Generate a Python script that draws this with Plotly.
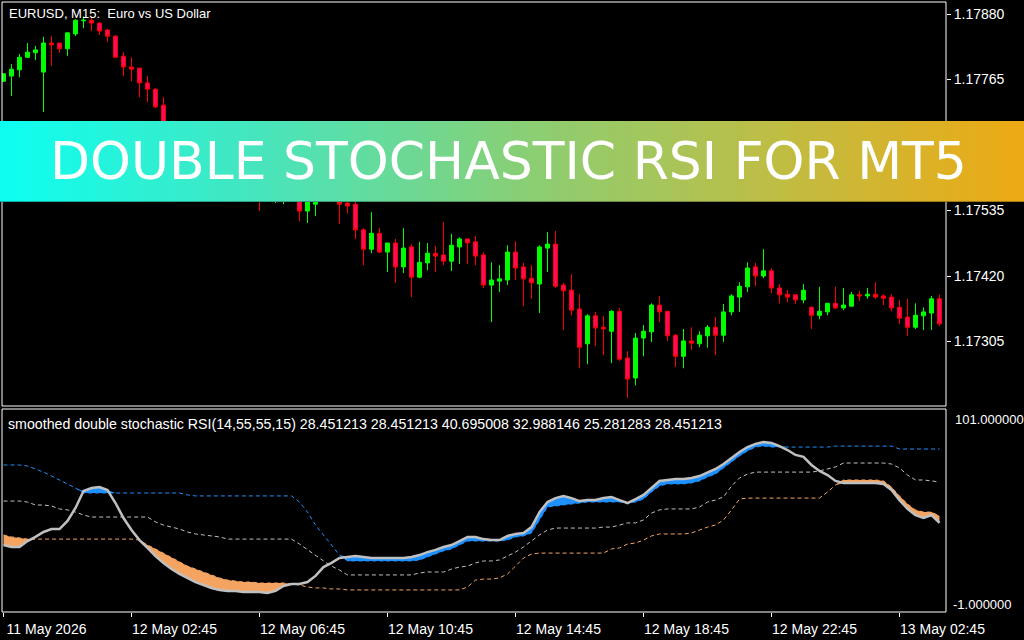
import numpy as np
import plotly.graph_objects as go

W, H = 1024, 640

# ---------------- data ----------------
bar_index = list(range(118))

open_ = [1.17762, 1.17771, 1.17782, 1.17804, 1.17812, 1.17778, 1.17829, 1.17829, 1.17819, 1.17845,
         1.17868, 1.17869, 1.17864, 1.17852, 1.17841, 1.17806, 1.17787, 1.17785, 1.17759, 1.17748,
         1.17720, 1.17680, 1.17659, 1.17671, 1.17641, 1.17627, 1.17638, 1.17613, 1.17592, 1.17606,
         1.17580, 1.17567, 1.17578, 1.17557, 1.17557, 1.17553, 1.17564, 1.17560, 1.17534, 1.17546,
         1.17559, 1.17553, 1.17562, 1.17548, 1.17546, 1.17501, 1.17467, 1.17495, 1.17462, 1.17478,
         1.17436, 1.17471, 1.17418, 1.17443, 1.17460, 1.17457, 1.17446, 1.17471, 1.17485, 1.17480,
         1.17457, 1.17404, 1.17411, 1.17413, 1.17462, 1.17436, 1.17416, 1.17406, 1.17469, 1.17476,
         1.17404, 1.17395, 1.17362, 1.17301, 1.17350, 1.17330, 1.17323, 1.17358, 1.17276, 1.17241,
         1.17311, 1.17322, 1.17369, 1.17358, 1.17316, 1.17279, 1.17306, 1.17301, 1.17315, 1.17330,
         1.17316, 1.17357, 1.17383, 1.17401, 1.17436, 1.17420, 1.17429, 1.17399, 1.17388, 1.17387,
         1.17378, 1.17365, 1.17351, 1.17357, 1.17372, 1.17364, 1.17367, 1.17387, 1.17385, 1.17388,
         1.17385, 1.17383, 1.17365, 1.17348, 1.17330, 1.17350, 1.17355, 1.17380]

high = [1.17776, 1.17792, 1.17810, 1.17829, 1.17824, 1.17840, 1.17841, 1.17829, 1.17847, 1.17871,
        1.17876, 1.17875, 1.17866, 1.17854, 1.17843, 1.17813, 1.17804, 1.17785, 1.17771, 1.17750,
        1.17734, 1.17687, 1.17676, 1.17675, 1.17650, 1.17645, 1.17641, 1.17624, 1.17610, 1.17611,
        1.17588, 1.17585, 1.17581, 1.17574, 1.17578, 1.17571, 1.17569, 1.17564, 1.17560, 1.17566,
        1.17571, 1.17574, 1.17567, 1.17550, 1.17557, 1.17504, 1.17532, 1.17504, 1.17478, 1.17485,
        1.17504, 1.17476, 1.17480, 1.17478, 1.17473, 1.17515, 1.17494, 1.17488, 1.17485, 1.17490,
        1.17462, 1.17444, 1.17439, 1.17474, 1.17481, 1.17443, 1.17439, 1.17474, 1.17497, 1.17499,
        1.17408, 1.17423, 1.17388, 1.17353, 1.17357, 1.17350, 1.17360, 1.17364, 1.17288, 1.17320,
        1.17334, 1.17372, 1.17385, 1.17358, 1.17318, 1.17327, 1.17330, 1.17323, 1.17334, 1.17348,
        1.17371, 1.17388, 1.17409, 1.17444, 1.17443, 1.17467, 1.17434, 1.17406, 1.17395, 1.17388,
        1.17406, 1.17367, 1.17401, 1.17372, 1.17401, 1.17399, 1.17392, 1.17394, 1.17399, 1.17409,
        1.17388, 1.17388, 1.17378, 1.17380, 1.17372, 1.17365, 1.17385, 1.17387]

low = [1.17761, 1.17736, 1.17769, 1.17803, 1.17799, 1.17708, 1.17789, 1.17812, 1.17806, 1.17841,
       1.17855, 1.17850, 1.17843, 1.17831, 1.17803, 1.17771, 1.17762, 1.17734, 1.17725, 1.17715,
       1.17673, 1.17652, 1.17648, 1.17632, 1.17618, 1.17620, 1.17606, 1.17585, 1.17581, 1.17571,
       1.17557, 1.17559, 1.17534, 1.17552, 1.17548, 1.17546, 1.17552, 1.17516, 1.17513, 1.17525,
       1.17550, 1.17552, 1.17511, 1.17530, 1.17485, 1.17439, 1.17460, 1.17460, 1.17427, 1.17408,
       1.17425, 1.17383, 1.17416, 1.17430, 1.17427, 1.17439, 1.17429, 1.17441, 1.17441, 1.17439,
       1.17399, 1.17339, 1.17392, 1.17404, 1.17413, 1.17367, 1.17380, 1.17355, 1.17427, 1.17399,
       1.17325, 1.17351, 1.17258, 1.17265, 1.17297, 1.17281, 1.17267, 1.17271, 1.17206, 1.17228,
       1.17279, 1.17304, 1.17339, 1.17306, 1.17260, 1.17258, 1.17290, 1.17295, 1.17294, 1.17281,
       1.17304, 1.17351, 1.17357, 1.17392, 1.17402, 1.17416, 1.17390, 1.17372, 1.17374, 1.17371,
       1.17372, 1.17327, 1.17344, 1.17351, 1.17362, 1.17360, 1.17367, 1.17376, 1.17380, 1.17380,
       1.17369, 1.17358, 1.17336, 1.17315, 1.17327, 1.17325, 1.17325, 1.17332]

close = [1.17775, 1.17783, 1.17804, 1.17813, 1.17817, 1.17829, 1.17826, 1.17819, 1.17847, 1.17869,
         1.17869, 1.17864, 1.17850, 1.17841, 1.17804, 1.17787, 1.17783, 1.17759, 1.17748, 1.17717,
         1.17680, 1.17659, 1.17671, 1.17641, 1.17627, 1.17638, 1.17613, 1.17592, 1.17606, 1.17580,
         1.17567, 1.17578, 1.17557, 1.17567, 1.17571, 1.17564, 1.17555, 1.17534, 1.17555, 1.17559,
         1.17553, 1.17562, 1.17546, 1.17543, 1.17501, 1.17467, 1.17495, 1.17462, 1.17478, 1.17436,
         1.17469, 1.17418, 1.17444, 1.17460, 1.17455, 1.17446, 1.17474, 1.17485, 1.17478, 1.17455,
         1.17404, 1.17413, 1.17415, 1.17462, 1.17434, 1.17415, 1.17408, 1.17471, 1.17476, 1.17402,
         1.17394, 1.17360, 1.17295, 1.17350, 1.17329, 1.17327, 1.17358, 1.17274, 1.17239, 1.17311,
         1.17323, 1.17369, 1.17357, 1.17315, 1.17279, 1.17306, 1.17302, 1.17316, 1.17330, 1.17316,
         1.17357, 1.17385, 1.17402, 1.17434, 1.17420, 1.17429, 1.17399, 1.17387, 1.17383, 1.17378,
         1.17395, 1.17351, 1.17358, 1.17372, 1.17364, 1.17369, 1.17387, 1.17385, 1.17388, 1.17383,
         1.17381, 1.17364, 1.17346, 1.17330, 1.17351, 1.17357, 1.17380, 1.17336]

# smoothed double stochastic RSI: value and its three floating levels
rsi_value = [33.0, 32.0, 32.0, 35.0, 37.1, 39.6, 41.1, 41.1, 45.2, 51.8,
             60.4, 61.9, 62.4, 60.9, 54.3, 46.7, 40.6, 35.5, 31.5, 27.4,
             23.9, 20.8, 18.3, 16.3, 14.2, 12.7, 11.2, 10.2, 9.7, 9.7,
             9.1, 9.1, 9.1, 8.6, 9.7, 12.2, 13.2, 13.2, 14.2, 17.3,
             21.8, 23.9, 26.4, 26.9, 27.4, 26.9, 26.4, 26.4, 26.4, 26.4,
             26.4, 26.9, 27.9, 29.4, 30.5, 32.0, 33.0, 35.0, 37.1, 37.1,
             36.0, 35.5, 35.5, 37.6, 38.6, 39.1, 42.1, 49.7, 54.8, 56.8,
             57.9, 56.8, 55.3, 55.8, 55.8, 56.8, 57.4, 55.8, 54.3, 56.3,
             58.4, 61.9, 65.5, 66.0, 66.5, 66.5, 67.0, 68.0, 70.0, 71.6,
             74.1, 77.1, 80.2, 82.7, 84.3, 85.3, 84.8, 83.2, 81.2, 78.7,
             77.7, 73.6, 70.6, 68.5, 65.5, 64.5, 64.5, 64.5, 64.5, 64.5,
             64.0, 60.9, 55.8, 51.3, 48.2, 46.7, 48.2, 44.2]

upper_level = [73.6, 73.6, 73.6, 73.1, 71.6, 70.0, 68.0, 66.0, 64.0, 61.9,
               59.4, 59.4, 59.4, 59.4, 59.4, 59.4, 59.4, 59.4, 59.4, 59.4,
               59.4, 59.4, 59.4, 58.4, 57.9, 57.9, 57.9, 57.9, 57.9, 57.9,
               57.9, 57.9, 57.9, 57.9, 57.9, 57.9, 57.9, 54.8, 49.7, 43.1,
               38.1, 33.0, 27.9, 24.9, 24.9, 24.9, 24.9, 24.9, 24.9, 24.9,
               24.9, 24.9, 25.4, 26.9, 28.4, 30.0, 31.0, 33.0, 35.0, 35.0,
               35.0, 35.0, 35.0, 35.5, 37.1, 37.6, 39.1, 45.7, 52.3, 52.8,
               53.3, 53.8, 54.3, 54.8, 54.8, 54.8, 54.8, 54.8, 54.3, 54.8,
               56.3, 59.9, 62.9, 64.0, 64.0, 64.0, 64.5, 65.5, 67.5, 69.0,
               72.1, 75.1, 78.2, 80.7, 82.7, 83.2, 82.7, 82.7, 82.7, 82.7,
               82.7, 82.7, 82.7, 82.7, 83.2, 83.2, 83.2, 83.2, 83.2, 83.2,
               83.2, 83.2, 81.7, 81.7, 81.7, 81.7, 81.7, 81.7]

middle_level = [55.3, 55.3, 55.3, 54.8, 53.3, 53.3, 52.8, 51.3, 50.8, 49.7,
                48.2, 47.2, 47.2, 47.2, 47.2, 47.2, 47.2, 47.2, 47.2, 44.7,
                43.1, 42.1, 41.1, 39.6, 38.6, 38.1, 37.6, 37.1, 36.0, 36.0,
                36.0, 36.0, 36.0, 36.0, 36.0, 36.0, 36.0, 33.5, 30.5, 27.9,
                24.9, 22.3, 20.3, 17.8, 17.8, 17.8, 17.8, 17.8, 17.8, 17.8,
                17.8, 17.8, 18.8, 19.3, 19.3, 19.3, 20.8, 21.8, 22.3, 23.9,
                24.9, 24.9, 25.4, 27.4, 29.4, 32.0, 35.0, 38.1, 40.6, 41.6,
                41.6, 41.6, 41.6, 41.6, 41.6, 42.1, 42.1, 43.1, 44.2, 44.2,
                45.7, 49.2, 50.8, 51.3, 51.3, 51.3, 51.3, 52.3, 54.8, 55.8,
                57.4, 62.9, 67.0, 69.0, 70.0, 70.0, 70.0, 70.0, 70.0, 70.0,
                70.0, 70.0, 70.6, 71.6, 72.6, 74.6, 74.6, 74.6, 74.6, 74.6,
                74.6, 74.1, 72.1, 68.5, 66.0, 66.0, 65.5, 65.0]

lower_level = [38.1, 37.1, 36.6, 36.0, 36.0, 36.0, 36.0, 36.0, 36.0, 36.0,
               36.0, 36.0, 36.0, 36.0, 36.0, 36.0, 36.0, 35.5, 33.0, 31.0,
               28.9, 26.9, 24.4, 22.3, 20.8, 19.3, 17.8, 16.3, 15.2, 14.7,
               14.2, 14.2, 13.7, 13.7, 13.7, 13.7, 13.2, 12.7, 11.7, 11.2,
               11.2, 10.7, 10.7, 10.2, 10.2, 10.2, 10.2, 10.2, 10.2, 10.2,
               10.2, 10.2, 10.2, 10.2, 10.2, 10.2, 10.2, 10.2, 11.7, 15.2,
               15.7, 15.7, 16.3, 18.3, 22.3, 26.4, 28.4, 28.9, 28.9, 28.9,
               28.9, 28.9, 28.9, 28.9, 28.9, 28.9, 31.0, 31.5, 33.5, 34.0,
               35.5, 37.6, 38.6, 38.6, 38.6, 38.6, 39.1, 40.6, 42.1, 43.1,
               45.7, 50.8, 56.3, 56.8, 56.8, 56.8, 56.8, 56.8, 56.8, 56.8,
               56.8, 56.8, 56.8, 59.9, 63.4, 66.0, 66.0, 66.0, 66.0, 66.0,
               65.5, 62.4, 57.9, 53.8, 50.8, 49.7, 49.7, 47.7]

time_tick_bars = [0, 16, 32, 48, 64, 80, 96, 112]
time_tick_labels = ["11 May 2026", "12 May 02:45", "12 May 06:45", "12 May 10:45",
                    "12 May 14:45", "12 May 18:45", "12 May 22:45", "13 May 02:45"]
price_ticks = [1.17305, 1.17420, 1.17535, 1.17765, 1.17880]
indicator_scale = [-1.0, 101.0]

symbol_title = "EURUSD, M15:  Euro vs US Dollar"
indicator_title = ("smoothed double stochastic RSI(14,55,55,15) 28.451213 28.451213 "
                   "40.695008 32.988146 25.281283 28.451213")
banner_text = "DOUBLE STOCHASTIC RSI FOR MT5"

# ---------------- styling helpers ----------------
def px(x):
    return x / W


def py(y):
    return 1 - y / H


BG = "#000000"
FG = "#FFFFFF"
BULL = "#00FF00"
BEAR_LINE = "#FF0000"
BEAR_FILL = "#FF0A5F"
BLUE = "#1E90FF"
ORANGE = "#F4A460"
SILVER = "#C0C0C0"
FAMILY = "Liberation Sans, Arial, sans-serif"
TITLEFONT = dict(family=FAMILY, size=13, color=FG)
HEADFONT = dict(family=FAMILY, size=14.2, color=FG)
AXFONT = dict(family=FAMILY, size=14, color=FG)
SCALEFONT = dict(family=FAMILY, size=13, color=FG)

v = np.array(rsi_value)
u = np.array(upper_level)
lo = np.array(lower_level)

fig = go.Figure()

# candles (upper panel)
fig.add_trace(go.Candlestick(
    x=bar_index, open=open_, high=high, low=low, close=close,
    increasing=dict(line=dict(color=BULL, width=1), fillcolor=BULL),
    decreasing=dict(line=dict(color=BEAR_LINE, width=1), fillcolor=BEAR_FILL),
    whiskerwidth=0, xaxis="x", yaxis="y", hoverinfo="skip",
))

# indicator levels (dotted)
for series, col in ((upper_level, BLUE), (middle_level, SILVER), (lower_level, ORANGE)):
    fig.add_trace(go.Scatter(x=bar_index, y=series, mode="lines",
                             line=dict(color=col, width=1, dash="4px,3px"),
                             xaxis="x", yaxis="y2", hoverinfo="skip"))

# blue fill where value above upper level
fig.add_trace(go.Scatter(x=bar_index, y=u, mode="lines", line=dict(width=0),
                         xaxis="x", yaxis="y2", hoverinfo="skip"))
fig.add_trace(go.Scatter(x=bar_index, y=np.maximum(v, u), mode="lines", line=dict(width=0),
                         fill="tonexty", fillcolor=BLUE, xaxis="x", yaxis="y2", hoverinfo="skip"))
# orange fill where value below lower level
fig.add_trace(go.Scatter(x=bar_index, y=lo, mode="lines", line=dict(width=0),
                         xaxis="x", yaxis="y2", hoverinfo="skip"))
fig.add_trace(go.Scatter(x=bar_index, y=np.minimum(v, lo), mode="lines", line=dict(width=0),
                         fill="tonexty", fillcolor=ORANGE, xaxis="x", yaxis="y2", hoverinfo="skip"))
# value line
fig.add_trace(go.Scatter(x=bar_index, y=rsi_value, mode="lines",
                         line=dict(color=SILVER, width=2.5),
                         xaxis="x", yaxis="y2", hoverinfo="skip"))

# ---------------- layout ----------------
x_left_px, x_right_px = 2, 946
bar_px = 8.0
first_bar_center_px = 3.5
x0 = -(first_bar_center_px - x_left_px) / bar_px
x1 = x0 + (x_right_px - x_left_px) / bar_px


# price scale: 1.17880 at y=14, 65.5 px per 0.00115
def price_at(ypix):
    return 1.17880 - (ypix - 14) * 0.00115 / 65.5


up_top, up_bot = 2, 406
lo_top, lo_bot = 411, 612

shapes = [
    dict(type="rect", xref="paper", yref="paper", x0=px(2), x1=px(946), y0=py(406), y1=py(2),
         line=dict(color=FG, width=1), layer="above"),
    dict(type="rect", xref="paper", yref="paper", x0=px(2), x1=px(946), y0=py(612), y1=py(409),
         line=dict(color=FG, width=1), layer="above"),
]

# gradient banner
stop_pos = [0.0, 0.25, 0.5, 0.75, 1.0]
stop_r = [13, 70, 135, 190, 238]
stop_g = [255, 230, 208, 190, 170]
stop_b = [242, 190, 120, 70, 20]
n_slices = 128
for k in range(n_slices):
    t = (k + 0.5) / n_slices
    r = int(np.interp(t, stop_pos, stop_r))
    g = int(np.interp(t, stop_pos, stop_g))
    b = int(np.interp(t, stop_pos, stop_b))
    shapes.append(dict(type="rect", xref="paper", yref="paper",
                       x0=k / n_slices, x1=min(1.0, (k + 1) / n_slices + 0.001),
                       y0=py(202), y1=py(121), fillcolor=f"rgb({r},{g},{b})",
                       line=dict(width=0), layer="above"))
# subtle darker bottom edge of the banner
shapes.append(dict(type="line", xref="paper", yref="paper", x0=0, x1=1,
                   y0=py(201.5), y1=py(201.5), line=dict(color="rgba(0,0,0,0.3)", width=1),
                   layer="above"))

annotations = [
    dict(text=symbol_title, x=px(7), y=py(14), xref="paper", yref="paper",
         xanchor="left", yanchor="middle", showarrow=False, font=TITLEFONT),
    dict(text=indicator_title, x=px(6), y=py(424), xref="paper", yref="paper",
         xanchor="left", yanchor="middle", showarrow=False, font=HEADFONT),
    dict(text=f"{indicator_scale[1]:.6f}", x=px(953), y=py(419), xref="paper", yref="paper",
         xanchor="left", yanchor="middle", showarrow=False, font=SCALEFONT),
    dict(text=f"{indicator_scale[0]:.6f}", x=px(951), y=py(604), xref="paper", yref="paper",
         xanchor="left", yanchor="middle", showarrow=False, font=SCALEFONT),
    dict(text=banner_text, x=px(508), y=py(161), xref="paper", yref="paper",
         xanchor="center", yanchor="middle", showarrow=False,
         font=dict(family="DejaVu Sans, sans-serif", size=52, color=FG)),
]

fig.update_layout(
    width=W, height=H, autosize=False,
    margin=dict(l=0, r=0, t=0, b=0, pad=0, autoexpand=False),
    paper_bgcolor=BG, plot_bgcolor=BG,
    showlegend=False, hovermode=False,
    xaxis=dict(domain=[px(x_left_px), px(x_right_px)], range=[x0, x1], anchor="y2",
               tickmode="array", tickvals=time_tick_bars, ticktext=time_tick_labels,
               ticks="outside", ticklen=4, tickcolor=FG, tickwidth=1,
               tickfont=AXFONT, ticklabelshift=43, showgrid=False, zeroline=False,
               showline=False, rangeslider=dict(visible=False), fixedrange=True),
    yaxis=dict(domain=[py(up_bot), py(up_top)], range=[price_at(up_bot), price_at(up_top)],
               side="right", anchor="x", tickmode="array", tickvals=price_ticks,
               ticktext=[f"{p:.5f}" for p in price_ticks],
               ticks="outside", ticklen=4, tickcolor=FG, tickfont=AXFONT,
               showgrid=False, zeroline=False, showline=False, fixedrange=True),
    yaxis2=dict(domain=[py(lo_bot), py(lo_top)], range=indicator_scale, anchor="x",
                showticklabels=False, ticks="", showgrid=False, zeroline=False,
                showline=False, fixedrange=True),
    shapes=shapes,
    annotations=annotations,
    boxgap=0.3,
)

fig.write_html("out.html",
               config={"displayModeBar": False, "responsive": False},
               post_script="document.body.style.margin='0';document.body.style.overflow='hidden';")
